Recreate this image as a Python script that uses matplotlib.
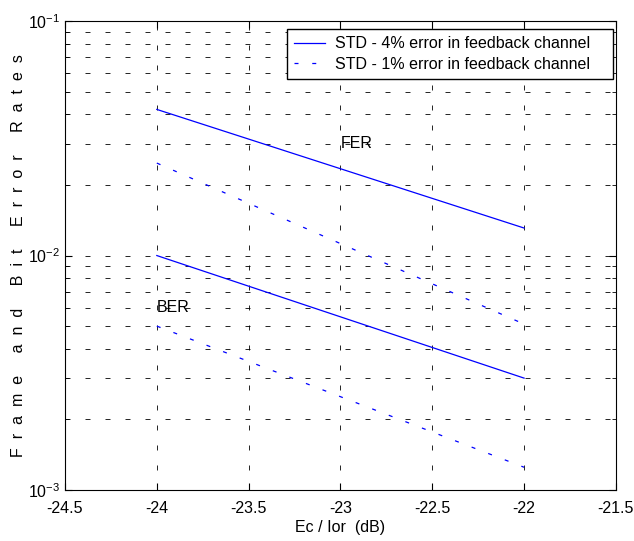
import numpy as np
import matplotlib.pyplot as plt
from matplotlib.ticker import LogLocator, FixedLocator

plt.rcParams['font.family'] = ['Liberation Sans', 'DejaVu Sans']
plt.rcParams['font.size'] = 11.5

# data
ec_ior = [-24, -22]
fer_std4 = [0.042, 0.0131]
ber_std4 = [0.0100, 0.0030]
fer_std1 = [0.0248, 0.0051]
ber_std1 = [0.0050, 0.00125]

x_ticks = [-24.5, -24, -23.5, -23, -22.5, -22, -21.5]

fig = plt.figure(figsize=(6.34, 5.41), dpi=100)
ax = fig.add_axes([0.1025, 0.0943, 0.869, 0.8667])

dash = (0, (3.2, 11))
ax.semilogy(ec_ior, fer_std4, color='blue', lw=0.9, label='STD - 4% error in feedback channel')
ax.semilogy(ec_ior, fer_std1, color='blue', lw=0.9, ls=dash, label='STD - 1% error in feedback channel')
ax.semilogy(ec_ior, ber_std4, color='blue', lw=0.9)
ax.semilogy(ec_ior, ber_std1, color='blue', lw=0.9, ls=dash)

ax.text(-23, 0.030, 'FER', ha='left', va='center')
ax.text(-24, 0.0060, 'BER', ha='left', va='center')

ax.set_xlim(-24.5, -21.5)
ax.set_ylim(1e-3, 1e-1)
ax.xaxis.set_major_locator(FixedLocator(x_ticks))
ax.set_xticklabels([f'{t:g}' for t in x_ticks])
ax.yaxis.set_major_locator(LogLocator(base=10, numticks=5))
ax.yaxis.set_minor_locator(LogLocator(base=10, subs=np.arange(2, 10), numticks=20))

ax.tick_params(which='both', direction='in', top=True, right=True)
ax.tick_params(which='major', length=5)
ax.tick_params(which='minor', length=3)
ax.tick_params(axis='x', pad=8)
ax.grid(True, which='both', color='black', ls=(0, (6, 18)), lw=0.6)

ax.set_xlabel('Ec / Ior  (dB)', labelpad=3)
# the reference spreads the letters of the y label out
ax.set_ylabel('  '.join('Frame and Bit Error Rates'), labelpad=1)

leg = ax.legend(loc='upper left', bbox_to_anchor=(0.403, 0.5, 0.5916, 0.483), mode='expand',
                borderaxespad=0, fancybox=False, edgecolor='black', framealpha=1,
                handlelength=1.9, handletextpad=0.65, borderpad=0.45, labelspacing=0.35)
leg.get_frame().set_linewidth(1.0)

fig.savefig('out.png', dpi=100)
